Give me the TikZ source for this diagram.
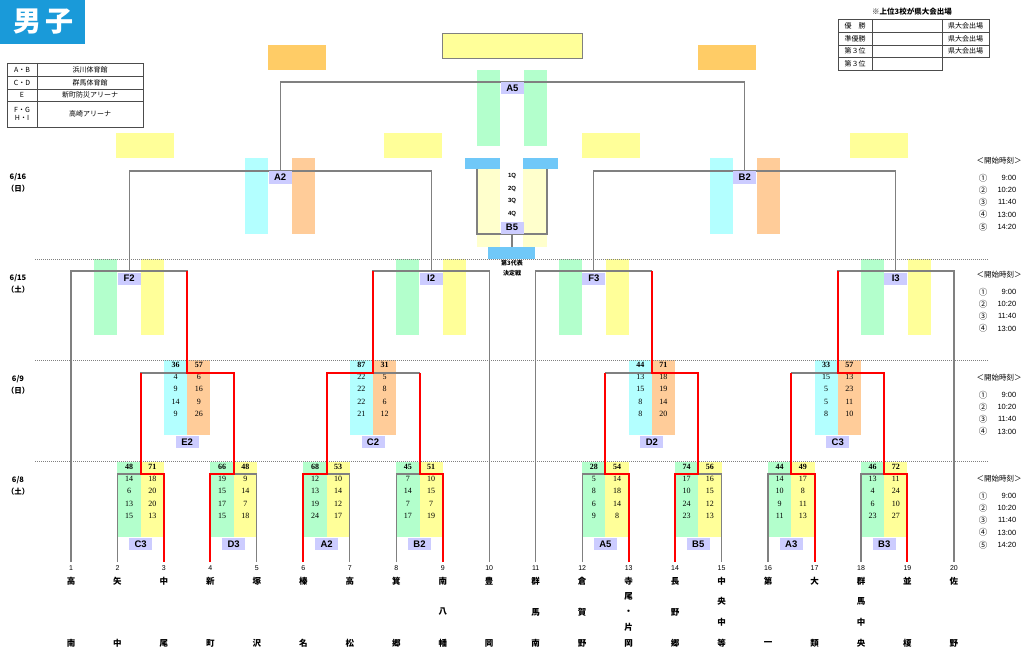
\documentclass[tikz,border=0pt]{standalone}
\usepackage{fontspec}
\setmainfont{Liberation Serif}
\setsansfont{Liberation Sans}
\newfontfamily\jp{Noto Sans CJK JP}
\usetikzlibrary{calc}
\definecolor{lgreen}{HTML}{B3FFCC}
\definecolor{lyellow}{HTML}{FFFF99}
\definecolor{lcyan}{HTML}{B3FFFF}
\definecolor{lpeach}{HTML}{FFCC99}
\definecolor{lorange}{HTML}{FFCC66}
\definecolor{pyellow}{HTML}{FFFFCC}
\definecolor{lblue}{HTML}{70C8F8}
\definecolor{lavender}{HTML}{CCCCFF}
\definecolor{titleblue}{HTML}{1A9AD9}
\definecolor{treegray}{HTML}{808080}
\tikzset{
  treeline/.style={draw=treegray, line width=1.2pt},
  winpath/.style={draw=red, line width=2pt},
  mlabel/.style={fill=lavender, font=\fontsize{9.5}{10}\selectfont\sffamily\bfseries, inner sep=0pt, minimum width=23pt, minimum height=12pt},
  score/.style={font=\fontsize{8}{9}\selectfont, inner sep=0pt},
  total/.style={font=\fontsize{8}{9}\selectfont\bfseries, inner sep=0pt},
  tnum/.style={font=\fontsize{7}{8}\selectfont\sffamily, inner sep=0pt},
  tname/.style={font=\fontsize{8.5}{9}\selectfont\jp\bfseries, inner sep=0pt},
  tabtext/.style={font=\fontsize{7}{8}\selectfont\jp, inner sep=0pt, align=center},
  datelbl/.style={font=\fontsize{7.5}{8}\selectfont\jp\bfseries, inner sep=0pt},
  timelbl/.style={font=\fontsize{7.5}{8}\selectfont\jp, inner sep=0pt},
  qlabel/.style={font=\fontsize{6}{7}\selectfont\sffamily\bfseries, inner sep=0pt},
  dayline/.style={draw=treegray, dash pattern=on 1pt off 1pt, line width=0.6pt},
}
% score block: name, centre x, top y, left colour, right colour, totals, quarters, label
\newcommand{\scorebox}[9]{%
  \fill[#4] ({#2-23.25},#3) rectangle (#2,{#3+75});
  \fill[#5] (#2,#3) rectangle ({#2+23.25},{#3+75});
  \node[total] (#1-tl) at ({#2-11.6},{#3+5}) {#6};
  \node[total] (#1-tr) at ({#2+11.6},{#3+5}) {#7};
  \foreach \qa/\qb [count=\k] in {#8} {
    \node[score] (#1-l\k) at ({#2-11.6},{#3+4.5+12.4*\k}) {\qa};
    \node[score] (#1-r\k) at ({#2+11.6},{#3+4.5+12.4*\k}) {\qb};
  }
  \node[mlabel] (lab#1) at (#2,{#3+82}) {#9};
}
% empty columns of the later rounds
\newcommand{\openbox}[4]{%
  \fill[#3] ({#1-35},#2) rectangle ({#1-12},{#2+76});
  \fill[#4] ({#1+12},#2) rectangle ({#1+35},{#2+76});
}
\begin{document}
\begin{tikzpicture}[x=1pt,y=-1pt]
\useasboundingbox (0,0) rectangle (1024,655);
%%%%% header %%%%%
\fill[titleblue] (0,0) rectangle (85,44);
\node[text=white, font=\fontsize{28}{28}\selectfont\jp\bfseries, inner sep=0pt] (title) at (43.5,22) {男\hspace{5pt}子};

\draw[line width=0.8pt, draw=black!70] (7,63) rectangle (143,127);
\draw[draw=black!70] (7,76) -- (143,76) (7,89) -- (143,89) (7,101) -- (143,101) (37,63) -- (37,127);
\node[tabtext] (v1a) at (22,69.5) {A・B};
\node[tabtext] (v1b) at (90,69.5) {浜川体育館};
\node[tabtext] (v2a) at (22,82.5) {C・D};
\node[tabtext] (v2b) at (90,82.5) {群馬体育館};
\node[tabtext] (v3a) at (22,95) {E};
\node[tabtext] (v3b) at (90,95) {新町防災アリーナ};
\node[tabtext] (v4a) at (22,114) {F・G\\H・I};
\node[tabtext] (v4b) at (90,114) {高崎アリーナ};

\node[tabtext, font=\fontsize{7.5}{8}\selectfont\jp\bfseries] (rhead) at (912,12) {※上位3校が県大会出場};
\draw[draw=black!70] (838,19) rectangle (942,70);
\draw[draw=black!70] (838,32) -- (942,32) (838,45) -- (942,45) (838,57) -- (942,57) (872,19) -- (872,70);
\draw[draw=black!70] (942,19) rectangle (989,57);
\draw[draw=black!70] (942,32) -- (989,32) (942,45) -- (989,45);
\node[tabtext] (r1) at (855,25.5) {優　勝};
\node[tabtext] (r2) at (855,38.5) {準優勝};
\node[tabtext] (r3) at (855,51) {第３位};
\node[tabtext] (r4) at (855,63.5) {第３位};
\foreach \y [count=\k] in {25.5,38.5,51}
  \node[tabtext] (ken\k) at (965.5,\y) {県大会出場};

%%%%% colour blocks %%%%%
\fill[lorange] (268,45) rectangle (326,70);
\fill[lorange] (698,45) rectangle (756,70);
\filldraw[fill=lyellow, draw=treegray] (442,33) rectangle (582,58);
\foreach \x in {116,384,582,850}
  \fill[lyellow] (\x,133) rectangle ({\x+58},158);

\openbox{512.45}{70}{lgreen}{lgreen}
\openbox{280.1}{158}{lcyan}{lpeach}
\openbox{744.8}{158}{lcyan}{lpeach}
\foreach \x in {129.1,431.1,593.8,895.8} {
  \openbox{\x}{259}{lgreen}{lyellow}
}

\fill[pyellow] (477,169) rectangle (500,247);
\fill[pyellow] (523,169) rectangle (547,247);
\fill[lblue] (465,158) rectangle (500,169);
\fill[lblue] (523,158) rectangle (558,169);
\fill[lblue] (488,247) rectangle (535,259);

\scorebox{r2e2}{187.2}{360}{lcyan}{lpeach}{36}{57}{4/6,9/16,14/9,9/26}{E2}
\scorebox{r2c2}{373.05}{360}{lcyan}{lpeach}{87}{31}{22/5,22/8,22/6,21/12}{C2}
\scorebox{r2d2}{651.85}{360}{lcyan}{lpeach}{44}{71}{13/18,15/19,8/14,8/20}{D2}
\scorebox{r2c3}{837.75}{360}{lcyan}{lpeach}{33}{57}{15/13,5/23,5/11,8/10}{C3}

\scorebox{r1c3}{140.7}{462}{lgreen}{lyellow}{48}{71}{14/18,6/20,13/20,15/13}{C3}
\scorebox{r1d3}{233.65}{462}{lgreen}{lyellow}{66}{48}{19/9,15/14,17/7,15/18}{D3}
\scorebox{r1a2}{326.6}{462}{lgreen}{lyellow}{68}{53}{12/10,13/14,19/12,24/17}{A2}
\scorebox{r1b2}{419.5}{462}{lgreen}{lyellow}{45}{51}{7/10,14/15,7/7,17/19}{B2}
\scorebox{r1a5}{605.4}{462}{lgreen}{lyellow}{28}{54}{5/14,8/18,6/14,9/8}{A5}
\scorebox{r1b5}{698.3}{462}{lgreen}{lyellow}{74}{56}{17/16,10/15,24/12,23/13}{B5}
\scorebox{r1a3}{791.3}{462}{lgreen}{lyellow}{44}{49}{14/17,10/8,9/11,11/13}{A3}
\scorebox{r1b3}{884.2}{462}{lgreen}{lyellow}{46}{72}{13/11,4/24,6/10,23/27}{B3}

%%%%% days %%%%%
\foreach \y in {259,360,461}
  \draw[dayline] (35,\y) -- (988,\y);
\node[datelbl] (d1) at (18,177) {6/16};
\node[datelbl] (w1) at (18,189) {（日）};
\node[datelbl] (d2) at (18,278) {6/15};
\node[datelbl] (w2) at (18,290) {（土）};
\node[datelbl] (d3) at (18,379) {6/9};
\node[datelbl] (w3) at (18,391) {（日）};
\node[datelbl] (d4) at (18,480) {6/8};
\node[datelbl] (w4) at (18,492) {（土）};

\foreach \h/\n [count=\b] in {161/5,275/4,378/4,479/5} {
  \node[timelbl] (th\b) at (999,\h) {＜開始時刻＞};
  \foreach \t [count=\k] in {9:00,10:20,11:40,13:00,14:20} {
    \ifnum\k>\n\else
      \node[timelbl, font=\fontsize{8.5}{9}\selectfont\jp] (tc\b-\k) at (983,{\h+17+12.2*(\k-1)}) {\ifcase\k\or①\or②\or③\or④\or⑤\fi};
      \node[timelbl, font=\fontsize{7.5}{8}\selectfont\sffamily, anchor=east] (tt\b-\k) at (1016.5,{\h+17+12.2*(\k-1)}) {\t};
    \fi
  }
}

%%%%% teams %%%%%
\foreach \i in {1,...,20} {
  \coordinate (t\i) at ({71+(\i-1)*46.47},562);
  \node[tnum] (num\i) at ({71+(\i-1)*46.47},568.5) {\i};
}
\foreach \i/\nm/\n in {1/{高,南}/2, 2/{矢,中}/2, 3/{中,尾}/2, 4/{新,町}/2, 5/{塚,沢}/2,
    6/{榛,名}/2, 7/{高,松}/2, 8/{箕,郷}/2, 9/{南,八,幡}/3, 10/{豊,岡}/2,
    11/{群,馬,南}/3, 12/{倉,賀,野}/3, 13/{寺,尾,・,片,岡}/5, 14/{長,野,郷}/3, 15/{中,央,中,等}/4,
    16/{第,一}/2, 17/{大,類}/2, 18/{群,馬,中,央}/4, 19/{並,榎}/2, 20/{佐,野}/2} {
  \foreach \ch [count=\k from 0] in \nm {
    \node[tname] (nm\i-\k) at ({71+(\i-1)*46.47},{581+\k*62/(\n-1)}) {\ch};
  }
}

%%%%% bracket %%%%%
\coordinate (r1c3) at (140.7,474);
\coordinate (r1d3) at (233.65,474);
\coordinate (r1a2) at (326.6,474);
\coordinate (r1b2) at (419.5,474);
\coordinate (r1a5) at (605.4,474);
\coordinate (r1b5) at (698.3,474);
\coordinate (r1a3) at (791.3,474);
\coordinate (r1b3) at (884.2,474);
\coordinate (r2e2) at (187.2,373);
\coordinate (r2c2) at (373.05,373);
\coordinate (r2d2) at (651.85,373);
\coordinate (r2c3) at (837.75,373);
\coordinate (r3f2) at (129.1,271);
\coordinate (r3i2) at (431.1,271);
\coordinate (r3f3) at (593.8,271);
\coordinate (r3i3) at (895.8,271);
\coordinate (r4a2) at (280.1,171);
\coordinate (r4b2) at (744.8,171);
\coordinate (r5a5) at (512.45,82);

\draw[treeline] (t2) |- (r1c3) -| (t3);
\draw[treeline] (t4) |- (r1d3) -| (t5);
\draw[treeline] (t6) |- (r1a2) -| (t7);
\draw[treeline] (t8) |- (r1b2) -| (t9);
\draw[treeline] (t12) |- (r1a5) -| (t13);
\draw[treeline] (t14) |- (r1b5) -| (t15);
\draw[treeline] (t16) |- (r1a3) -| (t17);
\draw[treeline] (t18) |- (r1b3) -| (t19);
\draw[treeline] (r1c3) |- (r2e2) -| (r1d3);
\draw[treeline] (r1a2) |- (r2c2) -| (r1b2);
\draw[treeline] (r1a5) |- (r2d2) -| (r1b5);
\draw[treeline] (r1a3) |- (r2c3) -| (r1b3);
\draw[treeline] (t1) |- (r3f2) -| (r2e2);
\draw[treeline] (r2c2) |- (r3i2) -| (t10);
\draw[treeline] (t11) |- (r3f3) -| (r2d2);
\draw[treeline] (r2c3) |- (r3i3) -| (t20);
\draw[treeline] (r3f2) |- (r4a2) -| (r3i2);
\draw[treeline] (r3f3) |- (r4b2) -| (r3i3);
\draw[treeline] (r4a2) |- (r5a5) -| (r4b2);

% winners
\draw[winpath] (t3) |- (r1c3) -- (r1c3 |- r2e2);
\draw[winpath] (t4) |- (r1d3) -- (r1d3 |- r2e2);
\draw[winpath] (t6) |- (r1a2) -- (r1a2 |- r2c2);
\draw[winpath] (t9) |- (r1b2) -- (r1b2 |- r2c2);
\draw[winpath] (t13) |- (r1a5) -- (r1a5 |- r2d2);
\draw[winpath] (t14) |- (r1b5) -- (r1b5 |- r2d2);
\draw[winpath] (t17) |- (r1a3) -- (r1a3 |- r2c3);
\draw[winpath] (t19) |- (r1b3) -- (r1b3 |- r2c3);
\draw[winpath] (r1d3) |- (r2e2) -- (r2e2 |- r3f2);
\draw[winpath] (r1a2) |- (r2c2) -- (r2c2 |- r3i2);
\draw[winpath] (r1b5) |- (r2d2) -- (r2d2 |- r3f3);
\draw[winpath] (r1b3) |- (r2c3) -- (r2c3 |- r3i3);

% third place
\coordinate (b5l) at (477,169);
\coordinate (b5r) at (547,169);
\coordinate (b5c) at (512,234);
\coordinate (b5d) at (512,247);
\draw[treeline] (b5l) |- (b5c) -| (b5r);
\draw[treeline] (b5c) -- (b5d);
\foreach \y [count=\k] in {176,188.5,201,213.5}
  \node[qlabel] (q\k) at (512,\y) {\k Q};
\node[mlabel] (labb5) at (512,227.5) {B5};
\node[qlabel, font=\fontsize{6}{7}\selectfont\jp\bfseries] (third1) at (512,263.5) {第3代表};
\node[qlabel, font=\fontsize{6}{7}\selectfont\jp\bfseries] (third2) at (512,273.5) {決定戦};

%%%%% labels %%%%%
\node[mlabel] (labf2) at (129.1,278.5) {F2};
\node[mlabel] (labi2) at (431.1,278.5) {I2};
\node[mlabel] (labf3) at (593.8,278.5) {F3};
\node[mlabel] (labi3) at (895.8,278.5) {I3};
\node[mlabel] (laba2) at (280.1,177.5) {A2};
\node[mlabel] (labb2) at (744.8,177.5) {B2};
\node[mlabel] (laba5) at (512.45,88.5) {A5};
\end{tikzpicture}
\end{document}
